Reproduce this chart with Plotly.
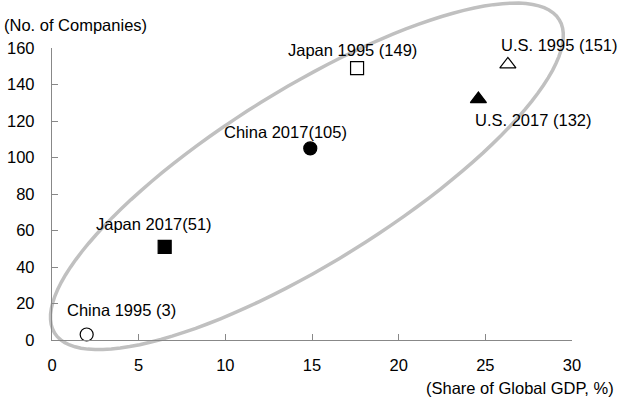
import numpy as np
import plotly.graph_objects as go

# data
labels = ["China 1995 (3)", "Japan 2017(51)", "China 2017(105)",
          "Japan 1995 (149)", "U.S. 1995 (151)", "U.S. 2017 (132)"]
gdp_share = [2.0, 6.5, 14.9, 17.6, 26.3, 24.6]
companies = [3, 51, 105, 149, 151, 132]
symbols = ["circle-open", "square", "circle", "square-open", "triangle-up-open", "triangle-up"]

x_ticks = [0, 5, 10, 15, 20, 25, 30]
y_ticks = [0, 20, 40, 60, 80, 100, 120, 140, 160]

# label offsets (px) relative to each point
label_pos = [
    dict(xanchor="center", xshift=35, yshift=25),
    dict(xanchor="center", xshift=-11, yshift=23),
    dict(xanchor="center", xshift=-25, yshift=16),
    dict(xanchor="center", xshift=-5, yshift=18),
    dict(xanchor="left", xshift=-9, yshift=19),
    dict(xanchor="left", xshift=-5, yshift=-21),
]

W, H = 620, 400
ml, mr, mt, mb = 51.5, 48.3, 48.3, 60
pw, ph = W - ml - mr, H - mt - mb

FONT = "Liberation Sans, Arial, sans-serif"

fig = go.Figure()
for i in range(len(labels)):
    fig.add_trace(go.Scatter(
        x=[gdp_share[i]], y=[companies[i]], mode="markers",
        marker=dict(symbol=symbols[i], size=14 if "triangle" in symbols[i] else 13,
                    color="black", line=dict(color="black", width=1.2)),
        cliponaxis=False, showlegend=False))

for i in range(len(labels)):
    fig.add_annotation(x=gdp_share[i], y=companies[i], text=labels[i], showarrow=False,
                       yanchor="middle", font=dict(size=16.5, color="black", family=FONT),
                       **label_pos[i])

# grey ellipse around the points (drawn in paper space so it is not clipped)
cx, cy, a, b, phi = 255, 163.5, 297, 87, np.radians(31.8)
t = np.linspace(0, 2 * np.pi, 121)
ex = cx + a * np.cos(t) * np.cos(phi) - b * np.sin(t) * np.sin(phi)
ey = cy + a * np.cos(t) * np.sin(phi) + b * np.sin(t) * np.cos(phi)
path = "M " + " L ".join("%.4f,%.4f" % (px / pw, py / ph) for px, py in zip(ex, ey)) + " Z"
fig.add_shape(type="path", path=path, xref="paper", yref="paper",
              line=dict(color="#c0c0c0", width=3.5), layer="below")

fig.add_annotation(x=-(ml - 1) / pw, y=1 + 23 / ph, xref="paper", yref="paper", xanchor="left",
                   yanchor="middle", text="(No. of Companies)", showarrow=False,
                   font=dict(size=16.5, color="black", family=FONT))
fig.add_annotation(x=1 + 44 / pw, y=-48 / ph, xref="paper", yref="paper", xanchor="right",
                   yanchor="middle", text="(Share of Global GDP, %)", showarrow=False,
                   font=dict(size=16.5, color="black", family=FONT))

axis_style = dict(showline=True, linecolor="#888888", linewidth=1.3, ticks="inside",
                  ticklen=6, tickcolor="#888888", tickwidth=1.3, showgrid=False,
                  zeroline=False, automargin=False,
                  tickfont=dict(size=16.5, color="black", family=FONT))
fig.update_xaxes(range=[0, 30], tickvals=x_ticks, ticklabelstandoff=10, **axis_style)
fig.update_yaxes(range=[0, 160], tickvals=y_ticks, ticklabelstandoff=13, **axis_style)

fig.update_layout(width=W, height=H, margin=dict(l=ml, r=mr, t=mt, b=mb),
                  plot_bgcolor="white", paper_bgcolor="white")

fig.write_html("out.html", config={"displayModeBar": False},
               post_script="document.body.style.margin='0';")
